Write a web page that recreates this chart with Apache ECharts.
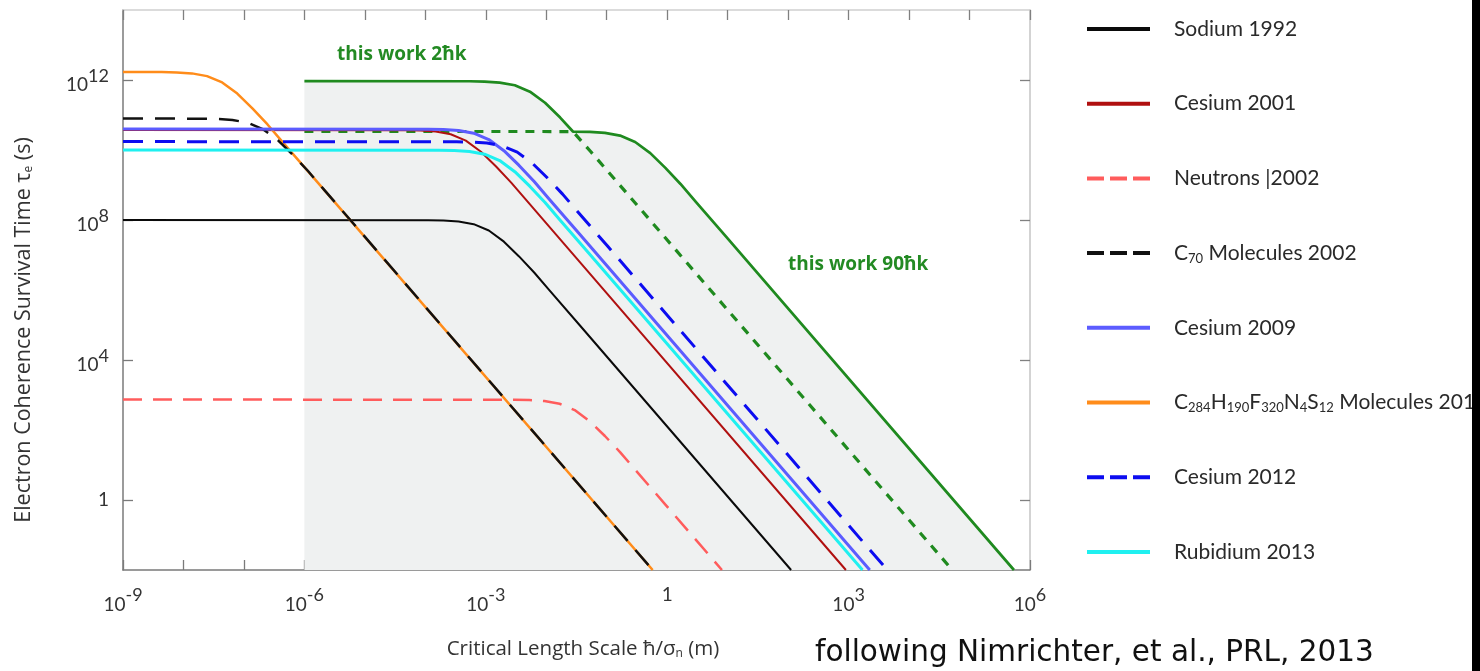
<!DOCTYPE html>
<html>
<head>
<meta charset="utf-8">
<title>Electron coherence survival time</title>
<script src="https://cdn.jsdelivr.net/npm/echarts@6/dist/echarts.min.js"></script>
<style>
  html, body { margin: 0; padding: 0; background: #ffffff; }
  #chart { width: 1480px; height: 671px; }
</style>
</head>
<body>
<div id="chart"></div>
<script>
// Axis ticks and labels (critical length scale in m, survival time in s)
const xTickValues = [1e-9, 1e-8, 1e-7, 1e-6, 1e-5, 1e-4, 1e-3, 1e-2, 1e-1, 1, 1e1, 1e2, 1e3, 1e4, 1e5, 1e6];
const xLabelValues = [1e-9, 1e-6, 1e-3, 1, 1e3, 1e6];
const yTickValues = [1, 1e4, 1e8, 1e12];

// Curves: [critical length (m), coherence survival time (s)]
const sodium1992 = [[1e-9, 1e8], [1.122e-4, 9.9e7], [1.995e-4, 9.694e7], [3.548e-4, 9.09e7], [6.31e-4, 7.6e7], [1.122e-3, 5e7], [1.995e-3, 2.404e7], [3.548e-3, 9.1e6], [6.31e-3, 3.16e6], [1.122e-2, 9.9e5], [3.548e-2, 1e5], [112, 0.01]];
const cesium2001 = [[1e-9, 3.715e10], [4.677e-5, 3.678e10], [8.318e-5, 3.601e10], [1.479e-4, 3.377e10], [2.63e-4, 2.823e10], [4.677e-4, 1.858e10], [8.318e-4, 8.93e9], [1.479e-3, 3.38e9], [2.63e-3, 1.174e9], [4.677e-3, 3.678e8], [1.479e-2, 3.715e7], [902, 0.01]];
const neutrons2002 = [[1e-9, 741], [2.951e-3, 733.6], [5.248e-3, 718.3], [9.33e-3, 673.6], [1.66e-2, 563.2], [2.951e-2, 370.5], [5.248e-2, 178.1], [9.33e-2, 67.4], [0.166, 23.4], [0.2951, 7.34], [0.933, 0.741], [8.04, 0.01]];
const c70Molecules2002 = [[1e-9, 7.94e10], [2.042e-8, 7.86e10], [3.631e-8, 7.70e10], [6.457e-8, 7.22e10], [1.148e-7, 6.03e10], [2.042e-7, 3.97e10], [3.631e-7, 1.909e10], [6.457e-7, 7.23e9], [1.148e-6, 2.51e9], [2.042e-6, 7.86e8], [6.457e-6, 7.94e7], [0.575, 0.01]];
const cesium2009 = [[1e-9, 3.98e10], [1.122e-4, 3.94e10], [1.995e-4, 3.858e10], [3.548e-4, 3.618e10], [6.31e-4, 3.025e10], [1.122e-3, 1.99e10], [1.995e-3, 9.57e9], [3.548e-3, 3.622e9], [6.31e-3, 1.258e9], [1.122e-2, 3.94e8], [3.548e-2, 3.98e7], [2239, 0.01]];
const pfMolecules2013 = [[1e-9, 1.7e12], [4.365e-9, 1.683e12], [7.76e-9, 1.648e12], [1.38e-8, 1.545e12], [2.455e-8, 1.292e12], [4.365e-8, 8.5e11], [7.76e-8, 4.087e11], [1.38e-7, 1.547e11], [2.455e-7, 5.37e10], [4.365e-7, 1.683e10], [1.38e-6, 1.7e9], [0.575, 0.01]];
const cesium2012 = [[1e-9, 1.738e10], [3.311e-4, 1.721e10], [5.888e-4, 1.685e10], [1.047e-3, 1.58e10], [1.862e-3, 1.321e10], [3.311e-3, 8.69e9], [5.888e-3, 4.178e9], [1.047e-2, 1.582e9], [1.862e-2, 5.49e8], [3.311e-2, 1.721e8], [0.1047, 1.738e7], [4365, 0.01]];
const rubidium2013 = [[1e-9, 1e10], [1.698e-4, 9.9e9], [3.02e-4, 9.694e9], [5.37e-4, 9.09e9], [9.55e-4, 7.6e9], [1.698e-3, 5e9], [3.02e-3, 2.404e9], [5.37e-3, 9.1e8], [9.55e-3, 3.16e8], [1.698e-2, 9.9e7], [5.37e-2, 1e7], [1698, 0.01]];
// Proposed bound: 2ħk curve up to the crossover, then the 90ħk curve
const thisWorkBound = [[1e-6, 9.3e11], [5.37e-4, 9.21e11], [9.55e-4, 9.015e11], [1.698e-3, 8.454e11], [3.02e-3, 7.068e11], [5.37e-3, 4.65e11], [9.55e-3, 2.236e11], [1.698e-2, 8.46e10], [2.76e-2, 3.37e10], [5.248e-2, 3.286e10], [9.33e-2, 3.082e10], [0.166, 2.576e10], [0.2951, 1.695e10], [0.5248, 8.15e9], [0.933, 3.085e9], [1.66, 1.071e9], [2.951, 3.356e8], [9.33, 3.39e7], [5.43e5, 0.01]];
// Continuations past the crossover: 90ħk plateau, then the 2ħk tail
const thisWorkCrossover = [[1e-6, 3.39e10], [2.76e-2, 3.37e10], [5.37e-2, 9.21e9], [0.1698, 9.3e8], [5.18e4, 0.01]];

const FONT = 'Lato, "Open Sans", sans-serif';
const WIDE = '"Open Sans", Lato, sans-serif';

function powLabel(value) {
  const n = Math.round(Math.log10(value));
  if (n === 0) return '{one|1}';
  return '{b|10}{sup|' + n + '}';
}

function lineSeries(name, data, color, width, type, z) {
  return {
    name: name, type: 'line', data: data,
    showSymbol: false, symbol: 'circle', smooth: false,
    lineStyle: { color: color, width: width, type: type || 'solid', join: 'round' },
    itemStyle: { color: color },
    z: z, animation: false, clip: true
  };
}

const chart = echarts.init(document.getElementById('chart'), null, { renderer: 'canvas' });

const option = {
  backgroundColor: '#ffffff',
  animation: false,
  grid: { left: 123, top: 10, width: 907, height: 560, containLabel: false },
  xAxis: [{
    type: 'log', logBase: 10, min: 1e-9, max: 1e6, position: 'bottom',
    axisLine: { show: true, onZero: false, lineStyle: { color: '#7a7a7a', width: 1.5 } },
    axisTick: { show: true, inside: true, length: 10, customValues: xTickValues, lineStyle: { color: '#7a7a7a', width: 1.3 } },
    axisLabel: {
      customValues: xLabelValues, formatter: powLabel, margin: 15, color: '#333',
      rich: {
        b: { fontFamily: FONT, fontSize: 19, color: '#333', lineHeight: 30, padding: [10, 0, 0, 0] },
        sup: { fontFamily: FONT, fontSize: 18, color: '#333', verticalAlign: 'top', padding: [1, 0, 0, 0] },
        one: { fontFamily: FONT, fontSize: 19, color: '#333', lineHeight: 30, padding: [0, 0, 10, 0] }
      }
    },
    splitLine: { show: false }, minorTick: { show: false }
  }, {
    type: 'log', logBase: 10, min: 1e-9, max: 1e6, position: 'top',
    axisLine: { show: true, onZero: false, lineStyle: { color: '#cfcfcf', width: 1.5 } },
    axisTick: { show: true, inside: true, length: 10, customValues: xTickValues, lineStyle: { color: '#808080', width: 1.3 } },
    axisLabel: { show: false }, splitLine: { show: false }
  }],
  yAxis: [{
    type: 'log', logBase: 10, min: 0.01, max: 1e14, position: 'left',
    axisLine: { show: true, onZero: false, lineStyle: { color: '#7a7a7a', width: 1.5 } },
    axisTick: { show: true, inside: true, length: 10, customValues: yTickValues, lineStyle: { color: '#7a7a7a', width: 1.3 } },
    axisLabel: {
      customValues: yTickValues, formatter: powLabel, margin: 14, color: '#333',
      rich: {
        b: { fontFamily: FONT, fontSize: 19, color: '#333', lineHeight: 30, padding: [10, 0, 0, 0] },
        sup: { fontFamily: FONT, fontSize: 18, color: '#333', verticalAlign: 'top', padding: [2, 0, 0, 0] },
        one: { fontFamily: FONT, fontSize: 19, color: '#333', lineHeight: 30 }
      }
    },
    splitLine: { show: false }, minorTick: { show: false }
  }, {
    type: 'log', logBase: 10, min: 0.01, max: 1e14, position: 'right',
    axisLine: { show: true, onZero: false, lineStyle: { color: '#c4c4c4', width: 1.5 } },
    axisTick: { show: true, inside: true, length: 10, customValues: yTickValues, lineStyle: { color: '#808080', width: 1.3 } },
    axisLabel: { show: false }, splitLine: { show: false }
  }],
  legend: {
    orient: 'vertical', left: 1085, top: 17, padding: 0,
    itemWidth: 63, itemHeight: 14, itemGap: 50.7,
    selectedMode: false,
    itemStyle: { opacity: 0 },
    lineStyle: { width: 4 },
    textStyle: {
      fontFamily: FONT, fontSize: 21, color: '#2a2a2a', lineHeight: 24, padding: [0, 0, 0, 19],
      rich: { s: { fontFamily: FONT, fontSize: 13, color: '#2a2a2a', lineHeight: 14, verticalAlign: 'bottom' } }
    },
    formatter: function (name) {
      if (name === 'C70 Molecules 2002') return 'C{s|70} Molecules 2002';
      if (name === 'C284H190F320N4S12 Molecules 2013') return 'C{s|284}H{s|190}F{s|320}N{s|4}S{s|12} Molecules 2013';
      return name;
    },
    data: [
      { name: 'Sodium 1992' },
      { name: 'Cesium 2001' },
      { name: 'Neutrons |2002', lineStyle: { type: [17, 6], width: 4 } },
      { name: 'C70 Molecules 2002', lineStyle: { type: [17, 6], width: 4 } },
      { name: 'Cesium 2009' },
      { name: 'C284H190F320N4S12 Molecules 2013' },
      { name: 'Cesium 2012', lineStyle: { type: [17, 6], width: 4 } },
      { name: 'Rubidium 2013' }
    ]
  },
  series: [
    {
      name: 'bound region', type: 'line', data: thisWorkBound,
      showSymbol: false, symbol: 'none', smooth: false, silent: true,
      lineStyle: { width: 0, opacity: 0 },
      areaStyle: { color: '#eff1f1', opacity: 1, origin: 'start' },
      z: 1, animation: false
    },
    lineSeries('this work crossover', thisWorkCrossover, '#1f8a1f', 3.2, [9, 8], 2),
    lineSeries('this work', thisWorkBound, '#1f8a1f', 2.7, 'solid', 3),
    lineSeries('Sodium 1992', sodium1992, '#0a0a0a', 2, 'solid', 4),
    lineSeries('Cesium 2001', cesium2001, '#b01010', 2, 'solid', 4),
    lineSeries('Neutrons |2002', neutrons2002, '#ff5c5c', 2.5, [19, 11], 4),
    lineSeries('C284H190F320N4S12 Molecules 2013', pfMolecules2013, '#ff8c1a', 2.5, 'solid', 5),
    lineSeries('C70 Molecules 2002', c70Molecules2002, '#111111', 2.5, [20, 12], 6),
    lineSeries('Rubidium 2013', rubidium2013, '#1ff0f0', 3, 'solid', 6),
    lineSeries('Cesium 2009', cesium2009, '#5c5cff', 3, 'solid', 7),
    lineSeries('Cesium 2012', cesium2012, '#0c0cf0', 3, [20, 12], 7)
  ],
  graphic: [
    {
      type: 'text', x: 337, y: 55, z: 20,
      style: { text: 'this work 2ħk', fontFamily: WIDE, fontWeight: 'bold', fontSize: 19, fill: '#238a23', verticalAlign: 'middle' }
    },
    {
      type: 'text', x: 788, y: 265, z: 20,
      style: { text: 'this work 90ħk', fontFamily: WIDE, fontWeight: 'bold', fontSize: 19, fill: '#238a23', verticalAlign: 'middle' }
    },
    {
      type: 'text', x: 24, y: 330, rotation: Math.PI / 2, z: 20,
      style: {
        text: 'Electron Coherence Survival Time τ{e|e} (s)',
        fontFamily: WIDE, fontSize: 21.5, fill: '#333', align: 'center', verticalAlign: 'middle',
        rich: { e: { fontFamily: WIDE, fontSize: 12, fill: '#333', lineHeight: 10, verticalAlign: 'bottom' } }
      }
    },
    {
      type: 'text', x: 583, y: 649, z: 20,
      style: {
        text: 'Critical Length Scale ħ/σ{n|n} (m)',
        fontFamily: WIDE, fontSize: 20.5, fill: '#333', align: 'center', verticalAlign: 'middle',
        rich: { n: { fontFamily: WIDE, fontSize: 12, fill: '#333', lineHeight: 10, verticalAlign: 'bottom' } }
      }
    },
    {
      type: 'text', x: 815, y: 653, z: 20,
      style: {
        text: 'following Nimrichter, et al., PRL, 2013',
        fontFamily: '"DejaVu Sans", sans-serif', fontSize: 29.5, fill: '#111', align: 'left', verticalAlign: 'middle'
      }
    },
    {
      type: 'rect', z: 100, silent: true,
      shape: { x: 1472, y: 0, width: 8, height: 671 },
      style: { fill: '#000000' }
    }
  ]
};

chart.setOption(option);
</script>
</body>
</html>
